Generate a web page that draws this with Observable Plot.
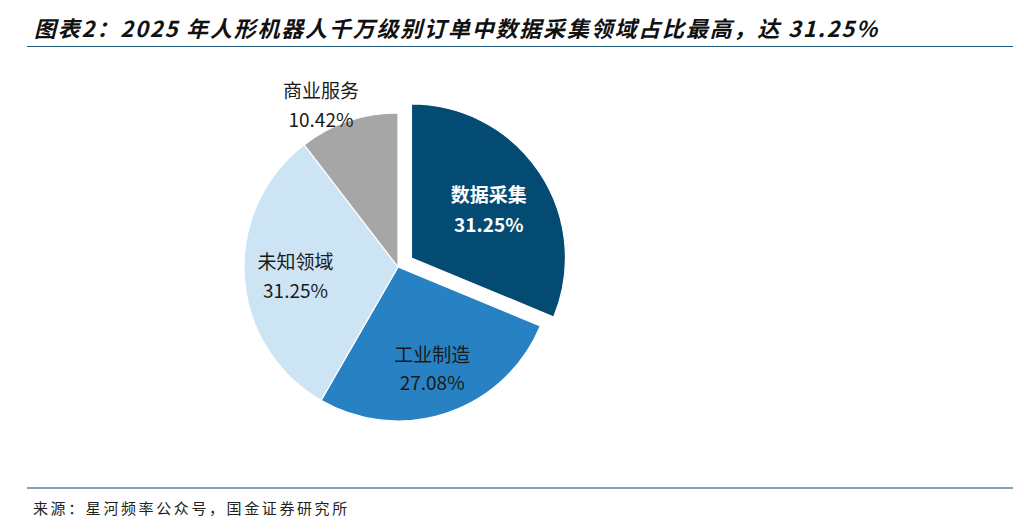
<!DOCTYPE html>
<html><head><meta charset="utf-8">
<script src="https://cdn.jsdelivr.net/npm/d3@7"></script>
<script src="https://cdn.jsdelivr.net/npm/@observablehq/plot@0.6"></script>
<style>
html,body{margin:0;padding:0;background:#fff;}
body{width:1024px;height:530px;overflow:hidden;position:relative;font-family:"Noto Sans CJK SC","Noto Sans",sans-serif;}
#title{position:absolute;left:27px;top:0;width:986px;height:46px;border-bottom:1.5px solid #1f5878;}
#title span{position:absolute;left:7px;top:14px;font-size:22px;line-height:26px;font-weight:bold;font-style:italic;letter-spacing:1.8px;color:#111;white-space:nowrap;}
#chart{position:absolute;left:0;top:48px;}
#source{position:absolute;left:27px;top:487px;width:986px;height:40px;border-top:2px solid #7ea3bd;}
#source span{position:absolute;left:6px;top:9px;font-size:15px;line-height:20px;letter-spacing:2.6px;color:#222;white-space:nowrap;}
</style>
</head><body>
<div id="title"><span>图表2：2025 年人形机器人千万级别订单中数据采集领域占比最高，达 31.25%</span></div>
<div id="chart"></div>
<div id="source"><span>来源：星河频率公众号，国金证券研究所</span></div>
<script>
const categories = ["数据采集", "工业制造", "未知领域", "商业服务"];
const shares = [31.25, 27.08, 31.25, 10.42];

const rows = categories.map((c, i) => ({category: c, share: shares[i]}));
const arcs = d3.pie().sort(null).value(d => d.share)(rows);

// layout (not data)
const explodeIndex = 0, explodeDist = 0.105;
const labelRadius = [0.6, 0.68, 0.67, 1.18];
const labelNudge = [0, 0, 0, -6.5 * Math.PI / 180];

const color = Plot.scale({color: {type: "ordinal", domain: categories,
  range: ["#034b73", "#2781c3", "#cde4f4", "#a6a6a6"]}});

function offset(a, i) {
  const mid = (a.startAngle + a.endAngle) / 2;
  const k = i === explodeIndex ? explodeDist : 0;
  return [Math.sin(mid) * k, Math.cos(mid) * k];
}

const labels = arcs.map((a, i) => {
  const mid = (a.startAngle + a.endAngle) / 2 + labelNudge[i];
  const [ox, oy] = offset(a, i);
  return {
    x: Math.sin(mid) * labelRadius[i] + ox,
    y: Math.cos(mid) * labelRadius[i] + oy,
    text: `${a.data.category}\n${a.data.share.toFixed(2)}%`,
    dark: i === explodeIndex
  };
});

function pieMark(index, scales) {
  const sx = scales.x, sy = scales.y;
  const r = sx(1) - sx(0);
  const g = d3.create("svg:g");
  arcs.forEach((a, i) => {
    const [ox, oy] = offset(a, i);
    const px = sx(ox), py = sy(oy);
    g.append("path")
      .attr("transform", `translate(${px},${py})`)
      .attr("d", d3.arc().innerRadius(0).outerRadius(r)({startAngle: a.startAngle, endAngle: a.endAngle}))
      .attr("fill", color.apply(a.data.category))
      .attr("stroke", "#fff")
      .attr("stroke-width", 1.2)
      .attr("stroke-linejoin", "round");
  });
  return g.node();
}

const plot = Plot.plot({
  width: 1024,
  height: 438,
  marginLeft: 244,
  marginRight: 472,
  marginTop: 65,
  marginBottom: 65,
  x: {domain: [-1, 1], axis: null},
  y: {domain: [-1, 1], axis: null},
  style: {fontFamily: '"Noto Sans CJK SC", sans-serif', background: "#fff", overflow: "visible"},
  marks: [
    pieMark,
    Plot.text(labels.filter(d => !d.dark), {x: "x", y: "y", text: "text", fontSize: 19, lineHeight: 1.5, fill: "#1a1a1a", letterSpacing: 2.2}),
    Plot.text(labels.filter(d => d.dark), {x: "x", y: "y", text: "text", fontSize: 19, lineHeight: 1.6, fill: "#fff", fontWeight: "bold", letterSpacing: 2.2})
  ]
});
document.getElementById("chart").appendChild(plot);
</script>
</body></html>
